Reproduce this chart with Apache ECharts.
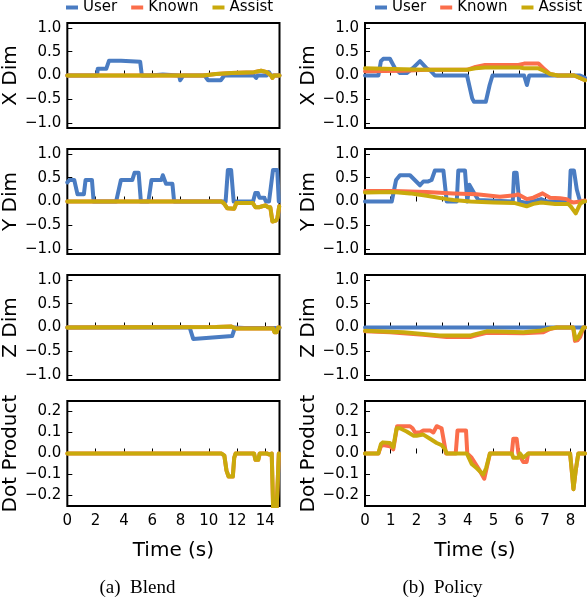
<!DOCTYPE html>
<html><head><meta charset="utf-8">
<script src="https://cdn.jsdelivr.net/npm/echarts@6/dist/echarts.min.js"></script>
<style>html,body{margin:0;padding:0;background:#fff}#c{width:587px;height:600px}</style>
</head><body><div id="c"></div>
<script>
// ---- series names / tick labels ----
const seriesNames = ['User', 'Known', 'Assist'];
const panelNames = ['X Dim', 'Y Dim', 'Z Dim', 'Dot Product'];
const blendTimeTicks = [0, 2, 4, 6, 8, 10, 12, 14];
const policyTimeTicks = [0, 1, 2, 3, 4, 5, 6, 7, 8];
const dimTicks = [-1, -0.5, 0, 0.5, 1];
const dotTicks = [-0.2, -0.1, 0, 0.1, 0.2];
const blendTimeMax = 15;
const policyTimeMax = 8.56;

// ---- Blend condition ----
const blendXUser = [[0,0],[2.1,0],[2.15,0.14],[2.75,0.14],[2.95,0.31],[3.8,0.31],[3.9,0.29],[5.15,0.29],[5.27,0],[5.9,0],[5.95,0.02],[6.75,0.02],[6.8,0],[7.9,0],[7.98,-0.1],[8.1,-0.12],[8.2,0],[9.7,0],[9.95,-0.1],[10.85,-0.1],[11.1,0],[13.2,0],[13.35,-0.05],[13.45,0],[14.1,0],[14.25,0.07],[14.4,0],[15,0]];
const blendXAssist = [[0,0],[9.6,0],[10.5,0.03],[11.6,0.05],[13.2,0.07],[13.7,0.1],[14.1,0.07],[14.4,0],[14.5,-0.05],[14.6,0],[15,0]];
const blendXKnown = blendXAssist;

const blendYUser = [[0,0.4],[0.15,0.45],[0.49,0.45],[0.72,0.15],[1.17,0.15],[1.29,0.45],[1.74,0.45],[1.86,0],[3.45,0],[3.79,0.45],[4.59,0.45],[4.75,0.6],[5.04,0.6],[5.2,0],[5.73,0],[5.95,0.45],[6.64,0.45],[6.75,0.55],[6.98,0.37],[7.43,0.37],[7.55,0],[11.19,0],[11.35,0.66],[11.58,0.66],[11.76,0],[13.13,0],[13.29,0.18],[13.47,0.18],[13.58,0.08],[13.92,0.08],[14.04,0],[14.26,0],[14.54,0.66],[14.84,0.66],[14.95,0]];
const blendYAssist = [[0,0],[10.9,0],[11.1,-0.05],[11.3,-0.14],[11.8,-0.15],[11.95,-0.03],[13.1,-0.03],[13.3,-0.12],[13.55,-0.12],[13.65,-0.08],[14.0,-0.08],[14.2,-0.12],[14.35,-0.12],[14.5,-0.42],[14.75,-0.4],[14.85,-0.35],[14.98,-0.1]];
const blendYKnown = blendYAssist;

const blendZUser = [[0,0],[8.65,0],[8.9,-0.24],[11.65,-0.18],[11.85,0],[12.5,-0.01],[15,-0.01]];
const blendZAssist = [[0,0],[10.5,0.01],[11.6,0.02],[11.9,-0.02],[14.55,-0.02],[14.65,-0.1],[14.8,-0.1],[14.9,0],[15,0]];
const blendZKnown = blendZAssist;

const blendDotAssist = [[0,0],[10.9,0],[11.1,-0.01],[11.25,-0.08],[11.4,-0.11],[11.7,-0.11],[11.8,-0.02],[11.9,0],[13.2,0],[13.3,-0.03],[13.5,-0.03],[13.6,0],[14.1,0],[14.3,-0.005],[14.45,0],[14.55,-0.26],[14.8,-0.26],[14.95,0]];
const blendDotKnown = blendDotAssist;

// ---- Policy condition ----
const policyXUser = [[0,0],[0.52,0],[0.62,0.3],[0.71,0.35],[0.97,0.35],[1.17,0.15],[1.36,0.05],[1.62,0.05],[1.85,0.15],[2.14,0.3],[2.4,0.15],[2.55,0.1],[2.72,0],[3.97,0],[4.17,-0.48],[4.24,-0.55],[4.7,-0.55],[4.85,-0.2],[4.96,0],[6.19,0],[6.3,-0.2],[6.39,0],[8.14,0],[8.2,0.03],[8.37,0],[8.56,-0.05]];
const policyXKnown = [[0,0.09],[1.5,0.1],[2.4,0.12],[3.97,0.12],[4.3,0.18],[4.67,0.22],[5.97,0.22],[6.19,0.25],[6.75,0.25],[6.95,0.15],[7.2,0.03],[7.5,0],[8.14,0],[8.56,-0.1]];
const policyXAssist = [[0,0.15],[1.5,0.13],[2.4,0.12],[3.97,0.12],[4.3,0.15],[4.67,0.17],[5.97,0.17],[6.19,0.15],[6.75,0.15],[6.95,0.1],[7.2,0.03],[7.5,0],[8.14,0],[8.56,-0.1]];

const policyYUser = [[0,0],[1.04,0],[1.21,0.45],[1.36,0.55],[1.75,0.55],[2.14,0.34],[2.27,0.42],[2.46,0.42],[2.59,0.45],[2.72,0.65],[3.05,0.65],[3.18,0],[3.57,0],[3.63,0.65],[3.89,0.65],[3.98,0],[4.06,0.35],[4.22,0.2],[4.41,0.03],[5.75,0],[5.8,0.6],[5.9,0.6],[6.0,0],[6.3,-0.03],[6.85,0.05],[7.1,0],[7.95,0],[8.0,0.65],[8.13,0.65],[8.24,0.25],[8.37,0],[8.56,0]];
const policyYKnown = [[0,0.22],[1.1,0.22],[2.4,0.2],[3.44,0.17],[4.34,0.15],[5.25,0.1],[5.84,0.13],[5.95,0.15],[6.29,0.05],[6.55,0.08],[6.91,0.17],[7.2,0.08],[7.59,0.07],[7.85,0.05],[7.98,0],[8.11,-0.02],[8.37,0],[8.56,0.02]];
const policyYAssist = [[0,0.19],[1.1,0.2],[1.75,0.17],[2.4,0.12],[3.18,0.05],[3.44,0.03],[4.1,0],[5.0,-0.02],[5.8,-0.03],[6.29,-0.1],[6.55,-0.05],[6.85,-0.02],[7.4,-0.05],[7.9,-0.05],[8.0,-0.1],[8.2,-0.25],[8.37,-0.05],[8.5,0],[8.56,0]];

const policyZUser = [[0,0],[8.56,0]];
const policyZKnown = [[0,-0.08],[0.97,-0.1],[2.27,-0.15],[3.18,-0.2],[4.09,-0.2],[4.22,-0.18],[4.73,-0.11],[6.16,-0.12],[6.94,-0.1],[7.2,-0.03],[7.46,0],[8.1,0],[8.17,-0.28],[8.27,-0.27],[8.37,-0.2],[8.5,0],[8.56,0]];
const policyZAssist = [[0,-0.07],[1.5,-0.1],[2.9,-0.17],[4.09,-0.17],[4.22,-0.15],[4.73,-0.08],[6.16,-0.1],[6.8,-0.07],[7.2,-0.02],[7.46,0],[8.1,0],[8.19,-0.25],[8.3,-0.2],[8.4,-0.1],[8.5,0],[8.56,0]];

const policyDotKnown = [[0,0],[0.52,0],[0.62,0.035],[0.7,0.04],[0.97,0.035],[1.1,0.02],[1.25,0.13],[1.75,0.13],[1.85,0.12],[1.95,0.1],[2.14,0.1],[2.27,0.11],[2.53,0.11],[2.66,0.1],[2.79,0.13],[2.98,0.12],[3.11,0.03],[3.15,0],[3.53,0],[3.6,0.11],[3.93,0.11],[3.98,0],[4.15,-0.02],[4.41,-0.07],[4.64,-0.12],[4.86,0],[5.71,0],[5.77,0.07],[5.9,0.07],[5.97,0],[6.16,-0.04],[6.29,-0.04],[6.35,0],[7.98,0],[8.06,-0.1],[8.11,-0.17],[8.2,-0.08],[8.3,0],[8.56,0]];
const policyDotAssist = [[0,0],[0.52,0],[0.62,0.045],[0.7,0.053],[0.97,0.05],[1.1,0.03],[1.23,0.12],[1.36,0.12],[1.62,0.105],[1.88,0.085],[2.01,0.085],[2.27,0.09],[2.53,0.07],[2.79,0.05],[2.98,0.04],[3.11,0.02],[3.18,0],[3.96,0],[4.15,-0.05],[4.35,-0.07],[4.6,-0.1],[4.71,-0.07],[4.86,0],[5.71,0],[5.77,-0.02],[5.97,-0.02],[6.03,0],[6.16,-0.02],[6.35,0],[7.98,0],[8.06,-0.1],[8.11,-0.17],[8.2,-0.08],[8.3,0],[8.56,0]];

// ---- layout / style ----
const colors = {User: '#4a7cc2', Known: '#fb6e4b', Assist: '#c9aa0c'};
const FONT = 'DejaVu Sans';
const colLeft = [59.5, 365];
const colWidth = 220;
const rowTop = [23, 149, 275, 401];
const rowHeight = 105;

const panels = [
  {col:0,row:0,xmax:blendTimeMax,xt:blendTimeTicks,data:{User:blendXUser,Known:blendXKnown,Assist:blendXAssist}},
  {col:0,row:1,xmax:blendTimeMax,xt:blendTimeTicks,data:{User:blendYUser,Known:blendYKnown,Assist:blendYAssist}},
  {col:0,row:2,xmax:blendTimeMax,xt:blendTimeTicks,data:{User:blendZUser,Known:blendZKnown,Assist:blendZAssist}},
  {col:0,row:3,xmax:blendTimeMax,xt:blendTimeTicks,data:{Known:blendDotKnown,Assist:blendDotAssist}},
  {col:1,row:0,xmax:policyTimeMax,xt:policyTimeTicks,data:{User:policyXUser,Known:policyXKnown,Assist:policyXAssist}},
  {col:1,row:1,xmax:policyTimeMax,xt:policyTimeTicks,data:{User:policyYUser,Known:policyYKnown,Assist:policyYAssist}},
  {col:1,row:2,xmax:policyTimeMax,xt:policyTimeTicks,data:{User:policyZUser,Known:policyZKnown,Assist:policyZAssist}},
  {col:1,row:3,xmax:policyTimeMax,xt:policyTimeTicks,data:{Known:policyDotKnown,Assist:policyDotAssist}}
];

function fmt(v){ return (v < 0 ? '\u2212' : '') + Math.abs(v).toFixed(1); }

const grid = [], xAxis = [], yAxis = [], series = [];
panels.forEach((p, i) => {
  const isDot = p.row === 3;
  grid.push({left: colLeft[p.col], top: rowTop[p.row], width: colWidth, height: rowHeight,
    show: true, borderColor: '#000', borderWidth: 2, backgroundColor: 'transparent'});
  xAxis.push({type: 'value', gridIndex: i, min: 0, max: p.xmax,
    name: isDot ? 'Time (s)' : '', nameLocation: 'middle', nameGap: 35,
    nameTextStyle: {fontFamily: FONT, fontSize: 20, color: '#000'},
    axisLine: {show: false}, splitLine: {show: false},
    axisTick: {show: true, inside: true, length: 5, lineStyle: {color: '#000', width: 1}, customValues: p.xt},
    axisLabel: {show: isDot, customValues: p.xt, fontFamily: FONT, fontSize: 15, color: '#000', margin: 8,
      formatter: v => String(v)}});
  const yt = isDot ? dotTicks : dimTicks;
  yAxis.push({type: 'value', gridIndex: i, min: isDot ? -0.25 : -1.1, max: isDot ? 0.25 : 1.1,
    name: panelNames[p.row], nameLocation: 'middle', nameGap: 42, nameRotate: 90,
    nameTextStyle: {fontFamily: FONT, fontSize: 20, color: '#000'},
    axisLine: {show: false}, splitLine: {show: false},
    axisTick: {show: true, inside: true, length: 5, lineStyle: {color: '#000', width: 1}, customValues: yt},
    axisLabel: {show: true, customValues: yt, fontFamily: FONT, fontSize: 15, color: '#000', margin: 6, formatter: fmt}});
  seriesNames.forEach(n => {
    if (!p.data[n]) return;
    series.push({type: 'line', name: n, xAxisIndex: i, yAxisIndex: i, data: p.data[n],
      showSymbol: false, symbol: 'none', clip: true, animation: false,
      lineStyle: {color: colors[n], width: 4, join: 'round', cap: 'round'}, itemStyle: {color: colors[n]}});
  });
});

const legendBase = {top: 0, padding: 0, itemWidth: 12, itemHeight: 4, itemGap: 14, icon: 'rect',
  data: seriesNames, textStyle: {fontFamily: FONT, fontSize: 15, color: '#000'}, selectedMode: false};

const option = {
  animation: false,
  backgroundColor: '#fff',
  legend: [Object.assign({left: 66}, legendBase), Object.assign({left: 375}, legendBase)],
  grid, xAxis, yAxis, series,
  graphic: [
    {type: 'text', x: 137.5, y: 588, style: {text: '(a)  Blend', font: '19px "Liberation Serif"', fill: '#000', textAlign: 'center', textVerticalAlign: 'middle'}},
    {type: 'text', x: 442.5, y: 588, style: {text: '(b)  Policy', font: '19px "Liberation Serif"', fill: '#000', textAlign: 'center', textVerticalAlign: 'middle'}}
  ]
};
const chart = echarts.init(document.getElementById('c'), null, {renderer: 'canvas'});
chart.setOption(option);
</script>
</body></html>
